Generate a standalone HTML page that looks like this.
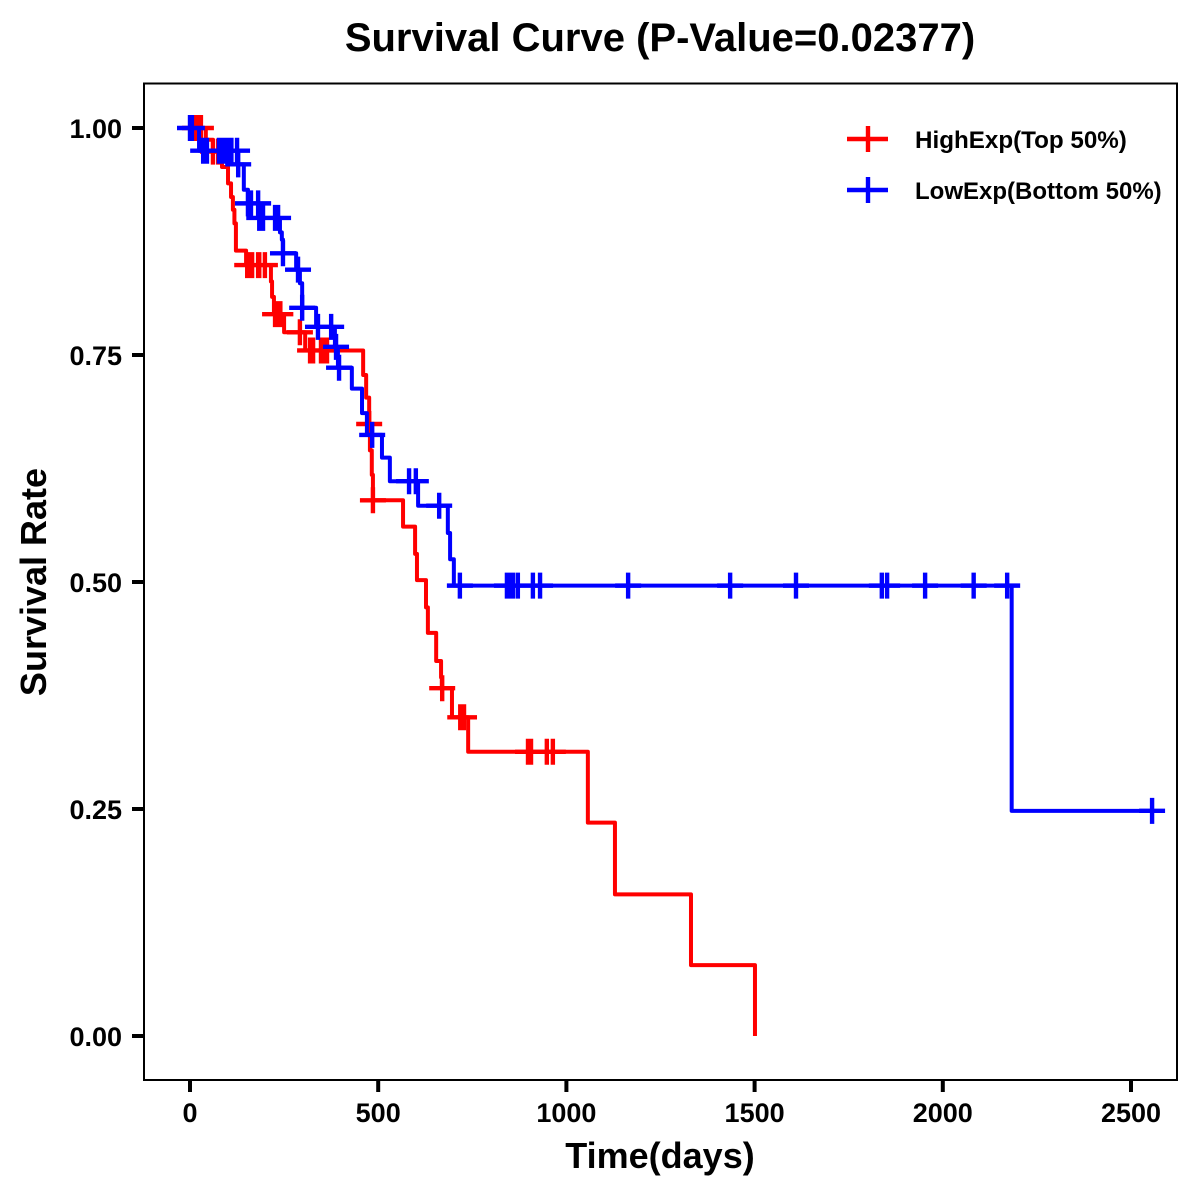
<!DOCTYPE html>
<html lang="en">
<head>
<meta charset="utf-8">
<title>Survival Curve</title>
<style>
html,body{margin:0;padding:0;background:#fff;}
svg{display:block;}
text{font-family:"Liberation Sans",Arial,sans-serif;font-weight:bold;fill:#000;}
</style>
</head>
<body>
<svg id="chart" xmlns="http://www.w3.org/2000/svg" width="1200" height="1200" viewBox="0 0 1200 1200">
  <rect x="0" y="0" width="1200" height="1200" fill="#fff"/>
  <text x="660" y="51" font-size="40" text-anchor="middle">Survival Curve (P-Value=0.02377)</text>
  <text x="660" y="1168" font-size="36" text-anchor="middle">Time(days)</text>
  <text transform="translate(46,582) rotate(-90)" font-size="36" text-anchor="middle">Survival Rate</text>
  <g id="ticks"></g>
  <g id="series"></g>
  <rect x="144" y="83.5" width="1033" height="996.5" fill="none" stroke="#000" stroke-width="2"/>
  <g>
    <g>
      <path d="M847 139H888M868 126V152" fill="none" stroke="#ff0000" stroke-width="4.4"/>
      <text x="915" y="148" font-size="24.2">HighExp(Top 50%)</text>
    </g>
    <g>
      <path d="M847 190H888M868 177V203" fill="none" stroke="#0000ff" stroke-width="4.4"/>
      <text x="915" y="199" font-size="24">LowExp(Bottom 50%)</text>
    </g>
  </g>
</svg>
<script>
const xTickValues = [0, 500, 1000, 1500, 2000, 2500];
const yTickValues = [0, 0.25, 0.5, 0.75, 1];
const yTickLabels = ["0.00", "0.25", "0.50", "0.75", "1.00"];

const highTimes = [42, 61, 85, 101, 109, 114, 118, 122, 149, 215, 218, 223, 250, 306, 460, 468, 476, 478, 483, 486, 566, 598, 603, 627, 632, 654, 667, 669, 696, 739, 1057, 1129, 1331, 1501];
const highSurv = [0.987, 0.974, 0.957, 0.939, 0.924, 0.91, 0.895, 0.865, 0.849, 0.831, 0.814, 0.795, 0.775, 0.755, 0.728, 0.703, 0.674, 0.645, 0.618, 0.59, 0.561, 0.531, 0.502, 0.472, 0.444, 0.413, 0.395, 0.383, 0.351, 0.313, 0.235, 0.156, 0.078, 0];
const highCensorTimes = [13, 16, 18, 21, 24, 27, 29, 61, 75, 152, 158, 162, 165, 181, 184, 199, 226, 229, 237, 240, 292, 319, 323, 327, 348, 352, 356, 360, 364, 476, 486, 670, 718, 722, 728, 898, 902, 906, 948, 964];
const highCensorSurv = [1, 1, 1, 1, 1, 1, 1, 0.974, 0.974, 0.849, 0.849, 0.849, 0.849, 0.849, 0.849, 0.849, 0.795, 0.795, 0.795, 0.795, 0.775, 0.755, 0.755, 0.755, 0.755, 0.755, 0.755, 0.755, 0.755, 0.674, 0.59, 0.383, 0.351, 0.351, 0.351, 0.313, 0.313, 0.313, 0.313, 0.313];

const lowTimes = [24, 126, 143, 154, 182, 239, 244, 247, 282, 292, 298, 335, 385, 393, 430, 457, 470, 510, 531, 606, 685, 691, 701, 2183];
const lowSurv = [0.975, 0.96, 0.932, 0.917, 0.901, 0.885, 0.877, 0.862, 0.844, 0.829, 0.802, 0.781, 0.759, 0.736, 0.713, 0.686, 0.662, 0.637, 0.611, 0.584, 0.554, 0.525, 0.496, 0.248];
const lowCensorTimes = [0, 5, 35, 38, 42, 45, 77, 80, 90, 95, 100, 105, 110, 125, 128, 154, 158, 162, 181, 184, 189, 194, 226, 230, 234, 247, 287, 298, 340, 375, 388, 396, 484, 582, 600, 662, 717, 842, 846, 850, 854, 858, 871, 911, 930, 1164, 1435, 1610, 1838, 1852, 1953, 2082, 2171, 2556];
const lowCensorSurv = [1, 1, 0.975, 0.975, 0.975, 0.975, 0.975, 0.975, 0.975, 0.975, 0.975, 0.975, 0.975, 0.975, 0.96, 0.917, 0.917, 0.917, 0.917, 0.901, 0.901, 0.901, 0.901, 0.901, 0.901, 0.862, 0.844, 0.802, 0.781, 0.781, 0.759, 0.736, 0.662, 0.611, 0.611, 0.584, 0.496, 0.496, 0.496, 0.496, 0.496, 0.496, 0.496, 0.496, 0.496, 0.496, 0.496, 0.496, 0.496, 0.496, 0.496, 0.496, 0.496, 0.248];
const lowLastTime = 2556;

const SVG_NS = "http://www.w3.org/2000/svg";
const xScale = function (t) { return 190 + t * (941 / 2500); };
const yScale = function (s) { return 1036 - s * 908; };
const MARK_HALF = 13;

const tickLayer = document.getElementById("ticks");
const seriesLayer = document.getElementById("series");

xTickValues.forEach(function (v) {
  const x = xScale(v);
  const tick = document.createElementNS(SVG_NS, "line");
  
  
  tick.setAttribute("x1", x);
  tick.setAttribute("x2", x);
  tick.setAttribute("y1", 1080);
  tick.setAttribute("y2", 1092);
  tick.setAttribute("stroke", "#000");
  tick.setAttribute("stroke-width", 4);
  tickLayer.appendChild(tick);
  const label = document.createElementNS(SVG_NS, "text");
  
  
  label.setAttribute("x", x);
  label.setAttribute("y", 1122);
  label.setAttribute("font-size", 27);
  label.setAttribute("text-anchor", "middle");
  label.textContent = String(v);
  tickLayer.appendChild(label);
});

yTickValues.forEach(function (v, i) {
  const y = yScale(v);
  const tick = document.createElementNS(SVG_NS, "line");
  
  
  tick.setAttribute("x1", 132);
  tick.setAttribute("x2", 144);
  tick.setAttribute("y1", y);
  tick.setAttribute("y2", y);
  tick.setAttribute("stroke", "#000");
  tick.setAttribute("stroke-width", 4);
  tickLayer.appendChild(tick);
  const label = document.createElementNS(SVG_NS, "text");
  
  
  label.setAttribute("x", 122);
  label.setAttribute("y", y + 10);
  label.setAttribute("font-size", 27);
  label.setAttribute("text-anchor", "end");
  label.textContent = yTickLabels[i];
  tickLayer.appendChild(label);
});

function stepPath(times, surv, lastTime) {
  let d = "M" + xScale(0) + " " + yScale(1);
  times.forEach(function (t, i) {
    d += "H" + xScale(t) + "V" + yScale(surv[i]);
  });
  if (lastTime !== null) {
    d += "H" + xScale(lastTime);
  }
  return d;
}

function censorPath(times, surv) {
  let d = "";
  times.forEach(function (t, i) {
    const x = xScale(t);
    const y = yScale(surv[i]);
    d += "M" + (x - MARK_HALF) + " " + y + "H" + (x + MARK_HALF);
    d += "M" + x + " " + (y - MARK_HALF) + "V" + (y + MARK_HALF);
  });
  return d;
}

const highLine = document.createElementNS(SVG_NS, "path");


highLine.setAttribute("d", stepPath(highTimes, highSurv, null));
highLine.setAttribute("fill", "none");
highLine.setAttribute("stroke", "#ff0000");
highLine.setAttribute("stroke-width", 4);
highLine.setAttribute("stroke-linejoin", "round");
seriesLayer.appendChild(highLine);

const highMarks = document.createElementNS(SVG_NS, "path");


highMarks.setAttribute("d", censorPath(highCensorTimes, highCensorSurv));
highMarks.setAttribute("fill", "none");
highMarks.setAttribute("stroke", "#ff0000");
highMarks.setAttribute("stroke-width", 4.4);
seriesLayer.appendChild(highMarks);

const lowLine = document.createElementNS(SVG_NS, "path");


lowLine.setAttribute("d", stepPath(lowTimes, lowSurv, lowLastTime));
lowLine.setAttribute("fill", "none");
lowLine.setAttribute("stroke", "#0000ff");
lowLine.setAttribute("stroke-width", 4);
lowLine.setAttribute("stroke-linejoin", "round");
seriesLayer.appendChild(lowLine);

const lowMarks = document.createElementNS(SVG_NS, "path");


lowMarks.setAttribute("d", censorPath(lowCensorTimes, lowCensorSurv));
lowMarks.setAttribute("fill", "none");
lowMarks.setAttribute("stroke", "#0000ff");
lowMarks.setAttribute("stroke-width", 4.4);
seriesLayer.appendChild(lowMarks);
</script>
</body>
</html>
